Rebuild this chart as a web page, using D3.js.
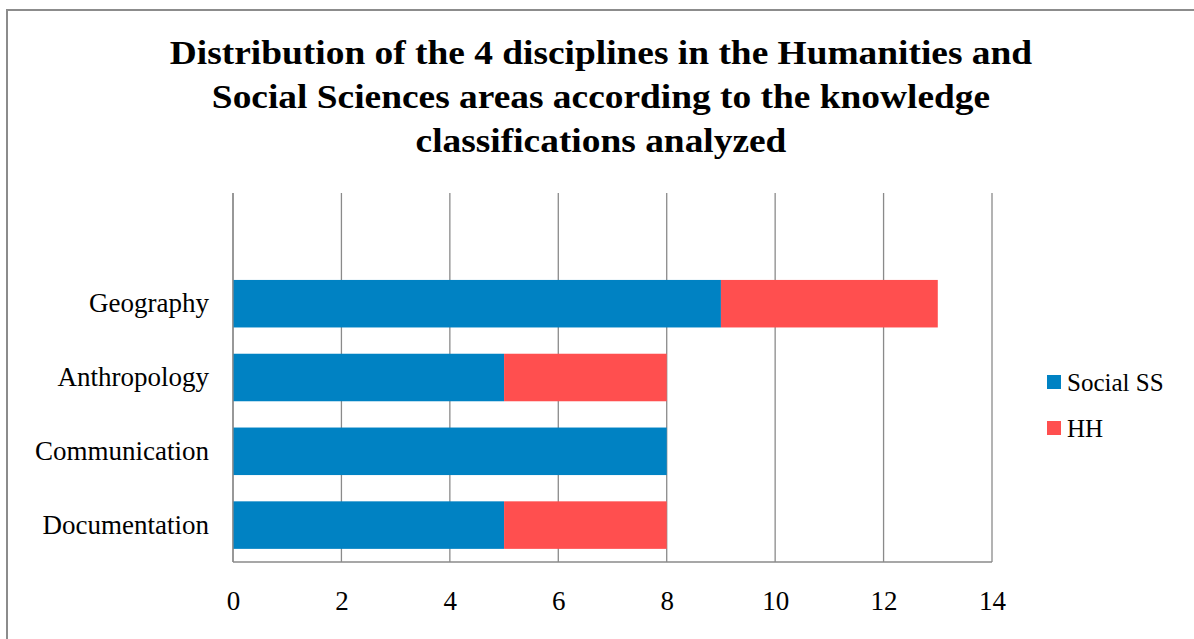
<!DOCTYPE html>
<html>
<head>
<meta charset="utf-8">
<script src="https://cdn.jsdelivr.net/npm/d3@7"></script>
<style>
  body { margin: 0; background: #fff; }
  text { font-family: "Liberation Serif", "Times New Roman", serif; }
</style>
</head>
<body>
<script>
// chart data
var categories = ["Documentation", "Communication", "Anthropology", "Geography", ""];
var socialSS = [5, 8, 5, 9, 0];
var hh = [3, 0, 3, 4, 0];
var seriesNames = ["Social SS", "HH"];
var seriesColors = ["#0082C3", "#FF4F4F"];
var xTicks = [0, 2, 4, 6, 8, 10, 12, 14];
var titleLines = [
  "Distribution of the 4 disciplines in the Humanities and",
  "Social Sciences areas according to the knowledge",
  "classifications analyzed"
];

var width = 1194, height = 639;
var svg = d3.select("body").append("svg")
    .attr("width", width)
    .attr("height", height);

// outer frame
svg.append("path")
    .attr("d", "M7," + height + " L7,10 L" + width + ",10")
    .attr("fill", "none")
    .attr("stroke", "#8c8c8c")
    .attr("stroke-width", 2);

// title (source font is a bit wider, so stretch horizontally)
svg.append("g")
    .attr("transform", "translate(601,0) scale(1.1,1)")
    .append("text")
    .attr("text-anchor", "middle")
    .attr("font-weight", "bold")
    .attr("font-size", 34)
    .selectAll("tspan")
    .data(titleLines)
    .enter()
    .append("tspan")
    .attr("x", 0)
    .attr("y", function (d, i) { return 64 + i * 44; })
    .text(function (d) { return d; });

var plotL = 233, plotR = 992, plotT = 193, plotB = 562;

var x = d3.scaleLinear().domain([0, 14]).range([plotL, plotR]);
var y = d3.scaleBand().domain(categories).range([plotB, plotT]).paddingInner(0.356).paddingOuter(0.178);

// gridlines
svg.append("g")
    .selectAll("line")
    .data(xTicks)
    .enter()
    .append("line")
    .attr("x1", function (d) { return x(d); })
    .attr("x2", function (d) { return x(d); })
    .attr("y1", plotT)
    .attr("y2", plotB)
    .attr("stroke", "#8a8a8a")
    .attr("stroke-width", 1.3);

// stacked bars
var rows = categories.map(function (c, i) {
  return { cat: c, vals: [socialSS[i], hh[i]] };
});
var stack = d3.stack().keys([0, 1]).value(function (d, k) { return d.vals[k]; });
var layers = stack(rows);

svg.append("g")
    .selectAll("g")
    .data(layers)
    .enter()
    .append("g")
    .attr("fill", function (d, i) { return seriesColors[i]; })
    .selectAll("rect")
    .data(function (d) { return d; })
    .enter()
    .append("rect")
    .attr("x", function (d) { return x(d[0]); })
    .attr("width", function (d) { return x(d[1]) - x(d[0]); })
    .attr("y", function (d) { return y(d.data.cat); })
    .attr("height", y.bandwidth());

// axis lines
svg.append("line")
    .attr("x1", plotL).attr("x2", plotL)
    .attr("y1", plotT).attr("y2", plotB)
    .attr("stroke", "#8a8a8a").attr("stroke-width", 1.3);
svg.append("line")
    .attr("x1", plotL).attr("x2", plotR)
    .attr("y1", plotB).attr("y2", plotB)
    .attr("stroke", "#8a8a8a").attr("stroke-width", 1.3);

// x axis labels
var xAxis = d3.axisBottom(x).tickValues(xTicks).tickSize(0).tickPadding(29);
var gx = svg.append("g")
    .attr("transform", "translate(0," + plotB + ")")
    .call(xAxis);
gx.select(".domain").remove();
gx.selectAll("text")
    .attr("font-size", 27)
    .attr("fill", "#000")
    .style("font-family", "'Liberation Serif', serif");

// y axis labels
var yAxis = d3.axisLeft(y).tickSize(0).tickPadding(24);
var gy = svg.append("g")
    .attr("transform", "translate(" + plotL + ",0)")
    .call(yAxis);
gy.select(".domain").remove();
gy.selectAll("text")
    .attr("font-size", 27)
    .attr("fill", "#000")
    .style("font-family", "'Liberation Serif', serif");

// legend
var legend = svg.append("g")
    .selectAll("g")
    .data(seriesNames)
    .enter()
    .append("g")
    .attr("transform", function (d, i) { return "translate(1047," + (375 + i * 46) + ")"; });
legend.append("rect")
    .attr("width", 14)
    .attr("height", 14)
    .attr("fill", function (d, i) { return seriesColors[i]; });
legend.append("text")
    .attr("x", 20)
    .attr("y", 7)
    .attr("dy", "0.35em")
    .attr("font-size", 25)
    .text(function (d) { return d; });
</script>
</body>
</html>
